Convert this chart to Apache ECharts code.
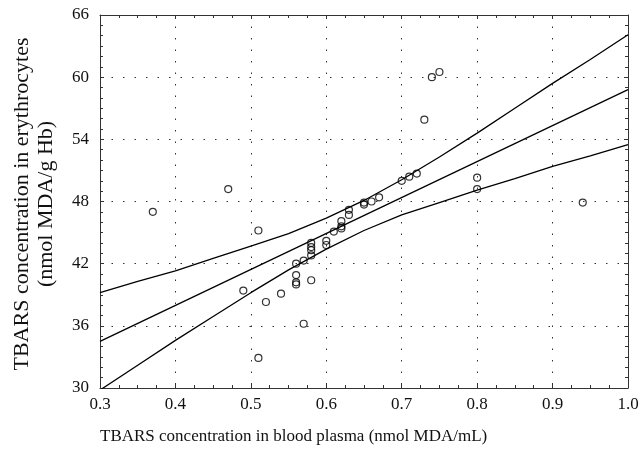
<!DOCTYPE html>
<html>
<head>
<meta charset="utf-8">
<script src="https://cdn.jsdelivr.net/npm/echarts@6/dist/echarts.min.js"></script>
<style>html,body{margin:0;padding:0;background:#fff}#c{width:642px;height:449px}</style>
</head>
<body>
<div id="c"></div>
<script>
var plasma = [0.37,0.47,0.51,0.49,0.52,0.54,0.51,0.56,0.56,0.56,0.56,0.57,0.57,0.58,0.58,0.58,0.58,0.58,0.60,0.60,0.61,0.62,0.62,0.62,0.63,0.63,0.65,0.65,0.66,0.67,0.70,0.71,0.72,0.73,0.74,0.75,0.80,0.80,0.94];
var erythro = [47.0,49.2,45.2,39.4,38.3,39.1,32.9,42.0,40.9,40.2,40.0,42.3,36.2,40.4,42.8,43.3,43.6,44.0,43.8,44.2,45.1,45.4,45.6,46.1,46.7,47.2,47.7,47.9,48.0,48.4,50.0,50.4,50.7,55.9,60.0,60.5,50.3,49.2,47.9];
var fitX = [0.3, 1.0];
var fitY = [34.5, 58.8];
var bandX = [0.30,0.35,0.40,0.45,0.50,0.55,0.60,0.65,0.70,0.75,0.80,0.85,0.90,0.95,1.00];
var upperY = [39.2,40.3,41.3,42.5,43.7,44.9,46.4,48.1,50.1,52.3,54.6,57.0,59.4,61.7,64.1];
var lowerY = [29.8,32.2,34.6,36.9,39.2,41.4,43.4,45.2,46.7,47.9,49.1,50.2,51.4,52.4,53.5];
var xTicks = [0.3,0.4,0.5,0.6,0.7,0.8,0.9,1.0];
var yTicks = [30,36,42,48,54,60,66];
var xTitle = 'TBARS concentration in blood plasma (nmol MDA/mL)';
var yTitle = 'TBARS concentration in erythrocytes\n(nmol MDA/g Hb)';

function zip(a,b){return a.map(function(v,i){return [v,b[i]];});}

var font = 'Liberation Serif';
var chart = echarts.init(document.getElementById('c'), null, {renderer:'canvas'});
var axisLine = {show:true, lineStyle:{color:'#333', width:1}};
var split = {show:true, lineStyle:{color:'#333', width:1, type:[1.5,10]}};
var tick = {show:true, inside:true, length:4, lineStyle:{color:'#333'}};
chart.setOption({
  animation:false,
  grid:{left:100, right:14, top:15, bottom:61, containLabel:false, outerBoundsMode:'none'},
  xAxis:[{
    type:'value', min:xTicks[0], max:xTicks[xTicks.length-1], interval:0.1,
    axisLine:axisLine, axisTick:tick,
    minorTick:{show:true, splitNumber:4, length:3, lineStyle:{color:'#333'}},
    splitLine:split,
    axisLabel:{color:'#111', fontFamily:font, fontSize:17, margin:8, formatter:function(v){return v.toFixed(1);}}
  },{
    type:'value', position:'top', min:xTicks[0], max:xTicks[xTicks.length-1], interval:0.1,
    axisLine:axisLine, axisTick:tick,
    minorTick:{show:true, splitNumber:4, length:3, lineStyle:{color:'#333'}},
    splitLine:{show:false}, axisLabel:{show:false}
  }],
  yAxis:[{
    type:'value', min:yTicks[0], max:yTicks[yTicks.length-1], interval:6,
    axisLine:axisLine, axisTick:tick,
    minorTick:{show:true, splitNumber:6, length:3, lineStyle:{color:'#333'}},
    splitLine:split,
    axisLabel:{color:'#111', fontFamily:font, fontSize:17, margin:11}
  },{
    type:'value', position:'right', min:yTicks[0], max:yTicks[yTicks.length-1], interval:6,
    axisLine:axisLine, axisTick:tick,
    minorTick:{show:true, splitNumber:6, length:3, lineStyle:{color:'#333'}},
    splitLine:{show:false}, axisLabel:{show:false}
  }],
  graphic:[
    {type:'text', x:100, y:437, style:{text:xTitle, fill:'#111', font:'17px "Liberation Serif"', textAlign:'left', textVerticalAlign:'middle'}},
    {type:'text', x:34, y:204, rotation:Math.PI/2, style:{text:yTitle, fill:'#111', font:'22px "Liberation Serif"', lineHeight:24, textAlign:'center', textVerticalAlign:'middle'}}
  ],
  series:[
    {type:'line', data:zip(fitX,fitY), showSymbol:false, symbol:'none', lineStyle:{color:'#000', width:1.3}, clip:true, z:2},
    {type:'line', data:zip(bandX,upperY), showSymbol:false, symbol:'none', lineStyle:{color:'#000', width:1.3}, clip:true, z:2},
    {type:'line', data:zip(bandX,lowerY), showSymbol:false, symbol:'none', lineStyle:{color:'#000', width:1.3}, clip:true, z:2},
    {type:'scatter', data:zip(plasma,erythro), symbol:'circle', symbolSize:7,
     itemStyle:{color:'rgba(0,0,0,0)', borderColor:'#000', borderWidth:1.2}, z:3}
  ]
});
</script>
</body>
</html>
